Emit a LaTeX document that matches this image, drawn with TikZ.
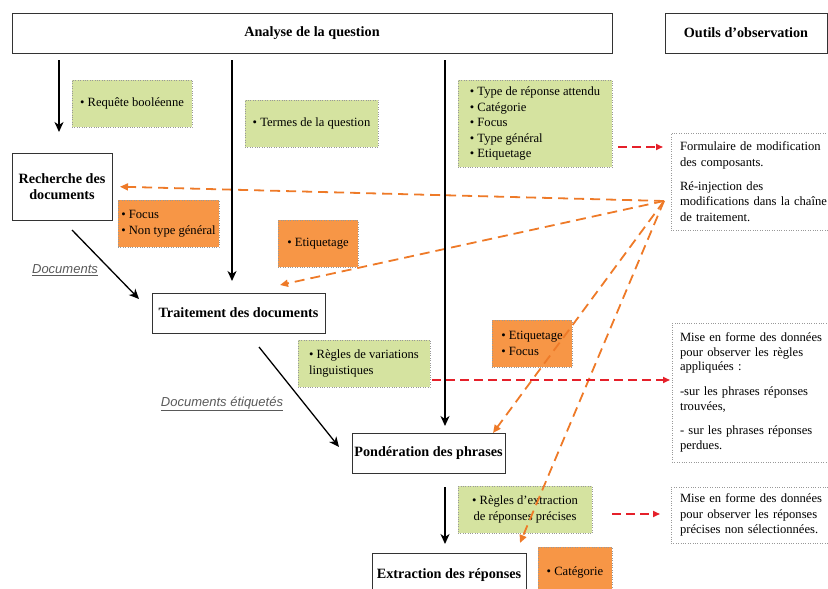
\documentclass[tikz,border=0pt]{standalone}
\usepackage{fontspec}
\setmainfont{Liberation Serif}
\setsansfont{Liberation Sans}
\usetikzlibrary{arrows.meta}
\definecolor{vert}{HTML}{D5E3A0}
\definecolor{orangefill}{HTML}{F79646}
\definecolor{orangeline}{HTML}{EE7A28}
\definecolor{rouge}{HTML}{E5202A}
\begin{document}
\begin{tikzpicture}[x=1pt,y=-1pt,
  base/.style={anchor=north west, inner ysep=0pt, inner xsep=0pt, outer sep=0pt},
  title/.style={base, draw=black!80, line width=0.9pt, fill=white, align=center, font=\fontsize{14.2}{16.5}\selectfont\bfseries},
  greenbox/.style={base, draw=black!40, dotted, fill=vert, font=\fontsize{12.6}{15.5}\selectfont, align=left},
  orangebox/.style={base, draw=black!40, dotted, fill=orangefill, font=\fontsize{12.6}{15.5}\selectfont, align=left},
  graybox/.style={base, draw=black!40, dotted, fill=white, font=\fontsize{12.6}{15.5}\selectfont, align=left},
  lbl/.style={font=\sffamily\itshape\fontsize{13}{15}\selectfont, text=black!65},
  blk/.style={line width=1.6pt, -{Stealth[length=10pt,width=9pt,inset=3pt]}},
  diag/.style={line width=1.3pt, -{Stealth[length=10pt,width=9pt,inset=3pt]}},
  oline/.style={draw=orangeline, line width=1.8pt, dash pattern=on 10pt off 6pt, -{Triangle[length=8pt,width=7pt]}},
  rline/.style={draw=rouge, line width=1.6pt, dash pattern=on 9pt off 5pt, -{Triangle[length=7pt,width=6pt]}}
]
\useasboundingbox (0,0) rectangle (828,589);
\clip (0,0) rectangle (828,589);

% main boxes
\node[title, minimum width=600pt, minimum height=40pt] (ana) at (12,13) {Analyse de la question};
\node[title, minimum width=162pt, minimum height=40pt] (out) at (665,13) {Outils d’observation};
\node[title, minimum width=100pt, minimum height=67pt] (rech) at (12,153) {Recherche des\\documents};
\node[title, minimum width=173pt, minimum height=40pt] (trait) at (152,293) {Traitement des documents};
\node[title, minimum width=153pt, minimum height=40pt] (pond) at (352,433) {Pondération des phrases};
\node[title, minimum width=154pt, minimum height=44pt] (extr) at (372,553) {Extraction des réponses};

% green boxes
\node[greenbox, minimum width=120pt, minimum height=47pt] (g1) at (72,80) {• Requête booléenne};
\node[greenbox, minimum width=133pt, minimum height=47pt] (g2) at (245,100) {• Termes de la question};
\node[greenbox, minimum width=154pt, minimum height=87pt] (g3) at (458,80) {• Type de réponse attendu\\• Catégorie\\• Focus\\• Type général\\• Etiquetage};
\node[greenbox, minimum width=132pt, minimum height=47pt] (g4) at (298,340) {• Règles de variations\\linguistiques};
\node[greenbox, minimum width=134pt, minimum height=47pt, align=center] (g5) at (458,486) {• Règles d’extraction\\de réponses précises};

% orange boxes
\node[orangebox, minimum width=101pt, minimum height=47pt] (o1) at (118,200) {• Focus\\• Non type général};
\node[orangebox, minimum width=80pt, minimum height=47pt] (o2) at (278,220) {• Etiquetage};
\node[orangebox, minimum width=80pt, minimum height=47pt] (o3) at (492,320) {• Etiquetage\\• Focus};
\node[orangebox, minimum width=74pt, minimum height=50pt] (o4) at (538,547) {• Catégorie};

% observation boxes
\node[graybox, inner xsep=9pt, text width=150pt, minimum height=97pt] (b1) at (671,133) {Formulaire de modification\\des composants.\\[8.5pt]Ré-injection des\\modifications dans la chaîne\\de traitement.};
\node[graybox, inner xsep=8pt, text width=150pt, minimum height=139pt, font=\fontsize{12.6}{14.6}\selectfont] (b2) at (672,323) {Mise en forme des données\\pour observer les règles\\appliquées :\\[10pt]-sur les phrases réponses\\trouvées,\\[10pt]- sur les phrases réponses\\perdues.};
\node[graybox, inner xsep=9pt, text width=150pt, minimum height=56pt] (b3) at (671,487) {Mise en forme des données\\pour observer les réponses\\précises non sélectionnées.};

% labels
\node[lbl] (l1) at (65,270) {\underline{Documents}};
\node[lbl] (l2) at (222,404) {\underline{Documents étiquetés}};

% orange dashed feedback arrows
\coordinate (hub) at (664,201);
\coordinate (t2) at (280,285);
\coordinate (t3) at (493,433);
\coordinate (t4) at (520,543);
\draw[oline, shorten >=8pt] (hub) -- (rech.east);
\draw[oline] (hub) -- (t2);
\draw[oline] (hub) -- (t3);
\draw[oline] (hub) -- (t4);

% black arrows
\coordinate (a1s) at (59,60);   \coordinate (a1e) at (59,132);
\coordinate (a2s) at (232,60);  \coordinate (a2e) at (232,281);
\coordinate (a3s) at (445,60);  \coordinate (a3e) at (445,426);
\coordinate (a4s) at (445,487); \coordinate (a4e) at (445,544);
\coordinate (d1s) at (72,230);  \coordinate (d1e) at (139,299);
\coordinate (d2s) at (259,347); \coordinate (d2e) at (339,447);
\draw[blk] (a1s) -- (a1e);
\draw[blk] (a2s) -- (a2e);
\draw[blk] (a3s) -- (a3e);
\draw[blk] (a4s) -- (a4e);
\draw[diag] (d1s) -- (d1e);
\draw[diag] (d2s) -- (d2e);

% red dashed arrows
\draw[rline, shorten <=6pt, shorten >=8pt] (g3.east |- 0,147) -- (b1.west |- 0,147);
\draw[rline, shorten <=2pt, shorten >=2pt] (g4.east |- 0,380) -- (b2.west |- 0,380);
\draw[rline, shorten <=20pt, shorten >=11pt] (g5.east |- 0,514) -- (b3.west |- 0,514);
\end{tikzpicture}
\end{document}
